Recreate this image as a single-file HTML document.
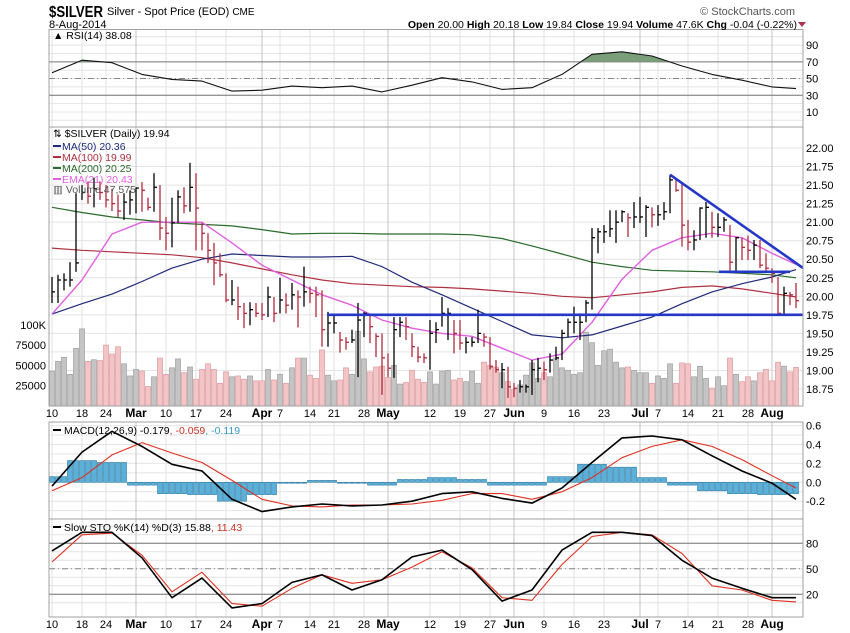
<!DOCTYPE html>
<html><head><meta charset="utf-8"><style>
body{margin:0;background:#fff;}
svg{display:block;font-family:"Liberation Sans",Arial,sans-serif;}
</style></head><body>
<svg id="c" width="850" height="633" viewBox="0 0 850 633" xmlns="http://www.w3.org/2000/svg">
<rect x="0" y="0" width="850" height="633" fill="#fff"/>
<g id="grid"></g>
<g id="vol"></g>
<g id="lines"></g>
<g id="bars"></g>
<g id="frames">
<rect x="49" y="29.5" width="754" height="97.5" fill="none" stroke="#a0a0a0"/>
<rect x="49" y="127" width="754" height="279" fill="none" stroke="#a0a0a0"/>
<rect x="49" y="422" width="754" height="97" fill="none" stroke="#a0a0a0"/>
<rect x="49" y="519" width="754" height="98" fill="none" stroke="#a0a0a0"/>
</g>
<g id="labels" font-size="11" fill="#000"></g>
<g>
<text x="49" y="17" font-size="16" font-weight="bold" textLength="54" lengthAdjust="spacingAndGlyphs">$SILVER</text>
<text x="107" y="15" font-size="11">Silver - Spot Price (EOD) <tspan font-size="10">CME</tspan></text>
<text x="49" y="28" font-size="11">8-Aug-2014</text>
<text x="795" y="15" font-size="11" fill="#555" text-anchor="end">© StockCharts.com</text>
<text x="797" y="28" font-size="10.5" text-anchor="end"><tspan font-weight="bold">Open</tspan> 20.00 <tspan font-weight="bold">High</tspan> 20.18 <tspan font-weight="bold">Low</tspan> 19.84 <tspan font-weight="bold">Close</tspan> 19.94 <tspan font-weight="bold">Volume</tspan> 47.6K <tspan font-weight="bold">Chg</tspan> -0.04 (-0.22%)</text>
<polygon points="798,22 806,22 802,27" fill="#b03050"/>
</g>
<g font-size="10.5">
<text x="53" y="39">▲ RSI(14) 38.08</text>
<text x="53" y="137">⇅ $SILVER (Daily) 19.94</text>
<line x1="53" y1="146" x2="61" y2="146" stroke="#1f2a7a" stroke-width="2"/><text x="62" y="150" fill="#1f2a7a">MA(50) 20.36</text>
<line x1="53" y1="157" x2="61" y2="157" stroke="#b03040" stroke-width="2"/><text x="62" y="161" fill="#b03040">MA(100) 19.99</text>
<line x1="53" y1="168" x2="61" y2="168" stroke="#2a6a2a" stroke-width="2"/><text x="62" y="172" fill="#2a6a2a">MA(200) 20.25</text>
<line x1="53" y1="179" x2="61" y2="179" stroke="#e060e0" stroke-width="2"/><text x="62" y="183" fill="#e060e0">EMA(21) 20.43</text>
<text x="53" y="193" fill="#555">▥ Volume 47,575</text>
<line x1="53" y1="430" x2="61" y2="430" stroke="#000" stroke-width="2"/><text x="64" y="434">MACD(12,26,9) -0.179<tspan fill="#d03020">, -0.059</tspan><tspan fill="#3a9ac8">, -0.119</tspan></text>
<line x1="53" y1="527" x2="61" y2="527" stroke="#000" stroke-width="2"/><text x="64" y="531">Slow STO %K(14) %D(3) 15.88<tspan fill="#d03020">, 11.43</tspan></text>
</g>
</svg>
<script>
const highs=[20.26,20.29,20.31,20.46,21.39,21.50,21.55,21.60,21.55,21.50,21.45,21.37,21.39,21.43,21.47,21.54,21.33,21.66,21.50,21.07,21.33,21.43,21.47,21.80,21.66,20.99,20.85,20.72,20.58,20.31,20.22,20.13,19.91,19.92,19.91,19.91,20.13,19.99,20.25,20.04,20.18,20.08,20.40,20.13,20.13,20.08,19.79,19.75,19.52,19.45,19.55,19.91,19.79,19.75,19.50,19.50,19.23,19.72,19.72,19.72,19.50,19.32,19.23,19.68,19.65,19.99,19.84,19.68,19.68,19.45,19.45,19.82,19.50,19.45,19.14,19.10,19.05,18.83,18.87,18.81,19.14,19.17,19.12,19.23,19.32,19.55,19.70,19.86,19.77,19.95,20.92,20.92,20.96,21.16,21.16,21.16,21.12,21.27,21.34,21.23,21.20,21.23,21.27,21.64,21.60,21.53,21.03,20.89,21.20,21.27,21.14,21.12,21.07,20.96,20.80,20.79,20.82,20.76,20.76,20.58,20.38,20.26,20.13,20.06,20.18];
const lows=[19.91,19.91,20.08,20.13,20.33,21.30,21.25,21.20,21.30,21.20,21.15,21.07,21.03,21.10,21.12,21.14,21.16,21.14,20.76,20.62,20.66,20.99,21.12,21.14,20.62,20.62,20.45,20.15,20.26,19.92,19.88,19.68,19.57,19.61,19.72,19.68,19.72,19.65,19.77,19.77,19.82,19.58,19.86,19.91,19.72,19.32,19.32,19.50,19.24,19.28,19.37,18.91,19.45,19.37,19.18,18.67,18.91,18.90,19.45,19.41,19.18,19.11,19.10,19.01,19.37,19.59,19.41,19.23,19.28,19.23,19.32,19.37,19.32,19.01,18.97,18.76,18.63,18.64,18.70,18.70,18.67,18.84,18.87,18.97,19.14,19.14,19.45,19.50,19.41,19.65,19.82,20.58,20.72,20.80,20.72,21.00,20.80,20.92,20.99,20.80,20.93,20.95,21.03,21.12,21.41,20.67,20.62,20.62,20.76,20.79,20.79,20.80,20.87,20.33,20.31,20.49,20.49,20.49,20.38,20.33,20.18,19.75,19.75,19.88,19.84];
const closes=[20.06,20.22,20.22,20.22,20.45,21.40,21.35,21.45,21.40,21.30,21.25,21.15,21.27,21.30,21.46,21.43,21.20,21.47,20.92,20.85,20.99,21.34,21.22,21.47,21.19,20.85,20.62,20.45,20.29,19.95,19.95,19.86,19.77,19.82,19.77,19.75,19.99,19.77,19.95,19.88,20.02,19.99,20.06,20.04,20.02,19.55,19.64,19.64,19.41,19.38,19.41,19.68,19.77,19.59,19.46,19.17,19.03,19.55,19.65,19.59,19.32,19.18,19.17,19.50,19.55,19.77,19.77,19.50,19.37,19.38,19.38,19.50,19.45,19.05,19.01,19.01,18.78,18.76,18.78,18.78,19.01,19.03,19.01,19.14,19.17,19.50,19.65,19.65,19.65,19.91,20.79,20.87,20.87,20.91,21.00,21.14,21.06,21.07,21.07,21.20,21.10,21.10,21.14,21.57,21.43,20.96,20.73,20.76,21.19,21.20,20.93,20.93,21.03,20.46,20.79,20.66,20.62,20.69,20.42,20.38,20.31,19.77,20.04,20.02,19.94];
const volumes=[43000,55000,60000,39000,71000,95000,55000,57000,56000,75000,64000,73000,52000,37000,45000,43000,24000,36000,59000,39000,47000,58000,41000,48000,33000,45000,52000,45000,28000,42000,36000,37000,33000,37000,31000,31000,45000,32000,39000,28000,47000,59000,59000,38000,34000,69000,38000,31000,32000,47000,39000,92000,58000,42000,48000,49000,35000,50000,27000,29000,44000,33000,29000,42000,27000,43000,44000,32000,34000,30000,43000,28000,54000,50000,48000,41000,30000,20000,26000,38000,53000,34000,41000,36000,59000,47000,44000,39000,41000,91000,78000,50000,68000,70000,54000,47000,48000,44000,41000,41000,28000,37000,34000,52000,28000,53000,52000,36000,49000,34000,22000,36000,25000,59000,39000,30000,36000,31000,41000,45000,31000,54000,49000,42000,47575];
const sampleDays=[0,5,10,15,20,25,30,35,40,45,50,55,60,65,70,75,80,85,90,95,100,105,110,115,120,124];
const ma50=[19.76,19.90,20.03,20.20,20.38,20.50,20.57,20.55,20.53,20.53,20.54,20.40,20.19,20.02,19.84,19.66,19.48,19.44,19.48,19.60,19.72,19.90,20.06,20.17,20.26,20.36];
const ma100=[20.65,20.62,20.60,20.58,20.56,20.52,20.45,20.37,20.29,20.22,20.17,20.15,20.13,20.12,20.10,20.07,20.04,20.00,19.98,20.02,20.06,20.12,20.14,20.10,20.04,19.99];
const ma200=[21.20,21.13,21.07,21.03,20.99,20.97,20.95,20.90,20.84,20.85,20.85,20.84,20.84,20.84,20.83,20.78,20.68,20.57,20.46,20.40,20.35,20.34,20.33,20.31,20.29,20.25];
const ema21=[19.76,20.22,20.84,21.00,21.00,21.00,20.72,20.42,20.22,20.02,19.88,19.68,19.57,19.50,19.46,19.30,19.14,19.22,19.65,20.23,20.62,20.79,20.85,20.79,20.58,20.43];
const rsi=[57,72,69,55,49,47,35,36,41,39,41,34,42,51,46,37,39,55,79,82,77,65,55,48,40,38];
const macdLine=[-0.04,0.32,0.54,0.38,0.19,0.12,-0.18,-0.31,-0.26,-0.23,-0.25,-0.24,-0.20,-0.12,-0.10,-0.17,-0.22,-0.06,0.21,0.47,0.49,0.45,0.28,0.12,-0.01,-0.18];
const macdSignal=[-0.09,0.05,0.29,0.42,0.31,0.21,0.02,-0.18,-0.25,-0.26,-0.24,-0.24,-0.23,-0.19,-0.12,-0.12,-0.18,-0.10,0.05,0.26,0.38,0.45,0.38,0.24,0.07,-0.06];
const macdHist=[0.06,0.23,0.21,-0.03,-0.12,-0.13,-0.20,-0.13,-0.01,0.02,-0.01,-0.03,0.03,0.05,0.03,-0.03,-0.03,0.06,0.19,0.16,0.05,-0.03,-0.09,-0.12,-0.13,-0.12];
const stoK=[71,93,93,63,16,39,4,9,34,43,25,37,64,72,49,12,25,72,93,93,89,60,39,27,16,16];
const stoD=[58,90,92,66,23,46,9,6,27,43,33,37,52,70,51,16,13,55,88,93,90,68,30,25,13,11];
const tickDays=[0,5,9,14,19,24,29,35,38,43,47,52,56,63,68,73,77,82,87,92,98,101,106,111,116,120];
const tickLabels=["10","18","24","Mar","10","17","24","Apr","7","14","21","28","May","12","19","27","Jun","9","16","23","Jul","7","14","21","28","Aug"];
const priceTicks=["22.00","21.75","21.50","21.25","21.00","20.75","20.50","20.25","20.00","19.75","19.50","19.25","19.00","18.75"];
const volTicks=[100000,75000,50000,25000];
const volTickLabels=["100K","75000","50000","25000"];
const rsiTicks=[90,70,50,30,10];
const macdTicks=["0.6","0.4","0.2","0.0","-0.2"];
const stoTicks=[80,50,20];

const NS="http://www.w3.org/2000/svg";
const X=i=>52+i*6;
const Yp=p=>148+(22-p)*74.15;
const Yv=v=>406-v/25000*20.3;
const Ym=v=>482.3-v*94.5;
const Ys=v=>611.3-v*0.85;
const Yr=v=>120.3-v*0.835;
function mk(tag,parent,attrs){const e=document.createElementNS(NS,tag);for(const k in attrs)e.setAttribute(k,attrs[k]);parent.appendChild(e);return e;}
const G=document.getElementById('grid'),V=document.getElementById('vol'),L=document.getElementById('lines'),B=document.getElementById('bars'),T=document.getElementById('labels');

for(let v=0;v<=100;v+=10){const l=mk('line',G,{x1:49,x2:803,y1:Yr(v),y2:Yr(v),stroke:'#e4e4e4'});}
for(const t of priceTicks){const y=Yp(+t);const l=mk('line',G,{x1:49,x2:803,y1:y,y2:y,stroke:'#e4e4e4'});
const tx=mk('text',T,{x:806,y:y+4});tx.textContent=t;}
for(let k=0;k<volTicks.length;k++){const y=Yv(volTicks[k]);const tx=mk('text',T,{x:46,y:y+4,'text-anchor':'end'});tx.textContent=volTickLabels[k];}
for(let v=-0.3;v<=0.61;v+=0.1){const l=mk('line',G,{x1:49,x2:803,y1:Ym(v),y2:Ym(v),stroke:'#e4e4e4'});}
for(const t of macdTicks){const tx=mk('text',T,{x:806,y:Ym(+t)+4});tx.textContent=t;}
for(let v=10;v<=100;v+=10){const l=mk('line',G,{x1:49,x2:803,y1:Ys(v),y2:Ys(v),stroke:'#e4e4e4'});}
for(const v of rsiTicks){const tx=mk('text',T,{x:806,y:Yr(v)+4});tx.textContent=String(v);}
for(const v of stoTicks){const tx=mk('text',T,{x:806,y:Ys(v)+4});tx.textContent=String(v);}
for(let k=0;k<tickDays.length;k++){const x=X(tickDays[k]);const month=/^[A-Z]/.test(tickLabels[k]);
for(const [a,b] of [[29.5,406],[422,617]]){const l=mk('line',G,{x1:x,x2:x,y1:a,y2:b,stroke:month?'#c4c4c4':'#e2e2e2'});}
for(const y of [417,628]){const tx=mk('text',T,{x:x,y:y,'text-anchor':'middle','font-weight':month?'bold':'normal','font-size':month?12:11});tx.textContent=tickLabels[k];}}
function hl(y,stroke,dash,name){const l=mk('line',G,{x1:49,x2:803,y1:y,y2:y,stroke:stroke});if(dash)l.setAttribute('stroke-dasharray',dash);}
hl(Yr(70),'#777',null,'rsi-70-line');hl(Yr(30),'#777',null,'rsi-30-line');hl(Yr(50),'#888','6,3,1,3','rsi-50-line');
hl(Ys(80),'#777',null,'sto-80-line');hl(Ys(20),'#777',null,'sto-20-line');hl(Ys(50),'#888','6,3,1,3','sto-50-line');

for(let i=0;i<volumes.length;i++){const up=i===0||closes[i]>=closes[i-1];const y=Yv(volumes[i]);
const r=mk('rect',V,{x:X(i)-2.5,y:y,width:5,height:406-y,fill:up?'#c4c4c4':'#f2c4c6',stroke:up?'#a0a0a0':'#dc9ca0','stroke-width':0.7});
}

function poly(vals,yf,color,w,name,parent){const pts=vals.map((v,k)=>X(sampleDays[k])+','+yf(v).toFixed(1)).join(' ');
const p=mk('polyline',parent||L,{points:pts,fill:'none',stroke:color,'stroke-width':w,'stroke-linejoin':'round'});return p;}
poly(ma200,Yp,'#2a6a2a',1.2,'ma200-line');
poly(ma100,Yp,'#b03040',1.2,'ma100-line');
poly(ma50,Yp,'#1f2a7a',1.2,'ma50-line');
poly(ema21,Yp,'#e060e0',1.4,'ema21-line');

const defs=mk('defs',L,{});const cp=mk('clipPath',defs,{id:'above70'});mk('rect',cp,{x:49,y:29,width:754,height:Yr(70)-29});
const fillPts=X(sampleDays[0])+','+Yr(70)+' '+rsi.map((v,k)=>X(sampleDays[k])+','+Yr(v).toFixed(1)).join(' ')+' '+X(sampleDays[sampleDays.length-1])+','+Yr(70);
const rf=mk('polygon',L,{points:fillPts,fill:'#7a9e7a','clip-path':'url(#above70)'});
poly(rsi,Yr,'#111',1.1,'rsi-line');

for(let i=0;i<closes.length;i++){let best=0;for(let k=1;k<sampleDays.length;k++)if(Math.abs(sampleDays[k]-i)<Math.abs(sampleDays[best]-i))best=k;
const v=macdHist[best];const y0=Ym(0),y1=Ym(v);
const r=mk('rect',L,{x:X(i)-2.5,y:Math.min(y0,y1),width:5,height:Math.max(0.8,Math.abs(y1-y0)),fill:'#5ab0d8',stroke:'#2a7aa4','stroke-width':0.6});
}
poly(macdSignal,Ym,'#e03020',1.1,'macd-signal-line');
poly(macdLine,Ym,'#000',1.6,'macd-line');
poly(stoD,Ys,'#e03020',1.1,'sto-d-line');
poly(stoK,Ys,'#000',1.6,'sto-k-line');

for(let i=0;i<closes.length;i++){const up=i===0||closes[i]>=closes[i-1];const c=up?'#000':'#b0283c';const x=X(i);
const g=mk('g',B,{stroke:c,'stroke-width':1.3});


mk('line',g,{x1:x,x2:x,y1:Yp(highs[i]),y2:Yp(lows[i])});
mk('line',g,{x1:x,x2:x+3,y1:Yp(closes[i]),y2:Yp(closes[i])});}

function tl(x1,y1,x2,y2,name){const l=mk('line',B,{x1:x1,y1:y1,x2:x2,y2:y2,stroke:'#2438c8','stroke-width':2.6});}
tl(X(103),Yp(21.64),803,268,'downtrend-line');
tl(327,Yp(19.75),803,Yp(19.75),'support-line-1975');
tl(719,Yp(20.33),790,Yp(20.33),'support-line-2033');
</script>
</body></html>
